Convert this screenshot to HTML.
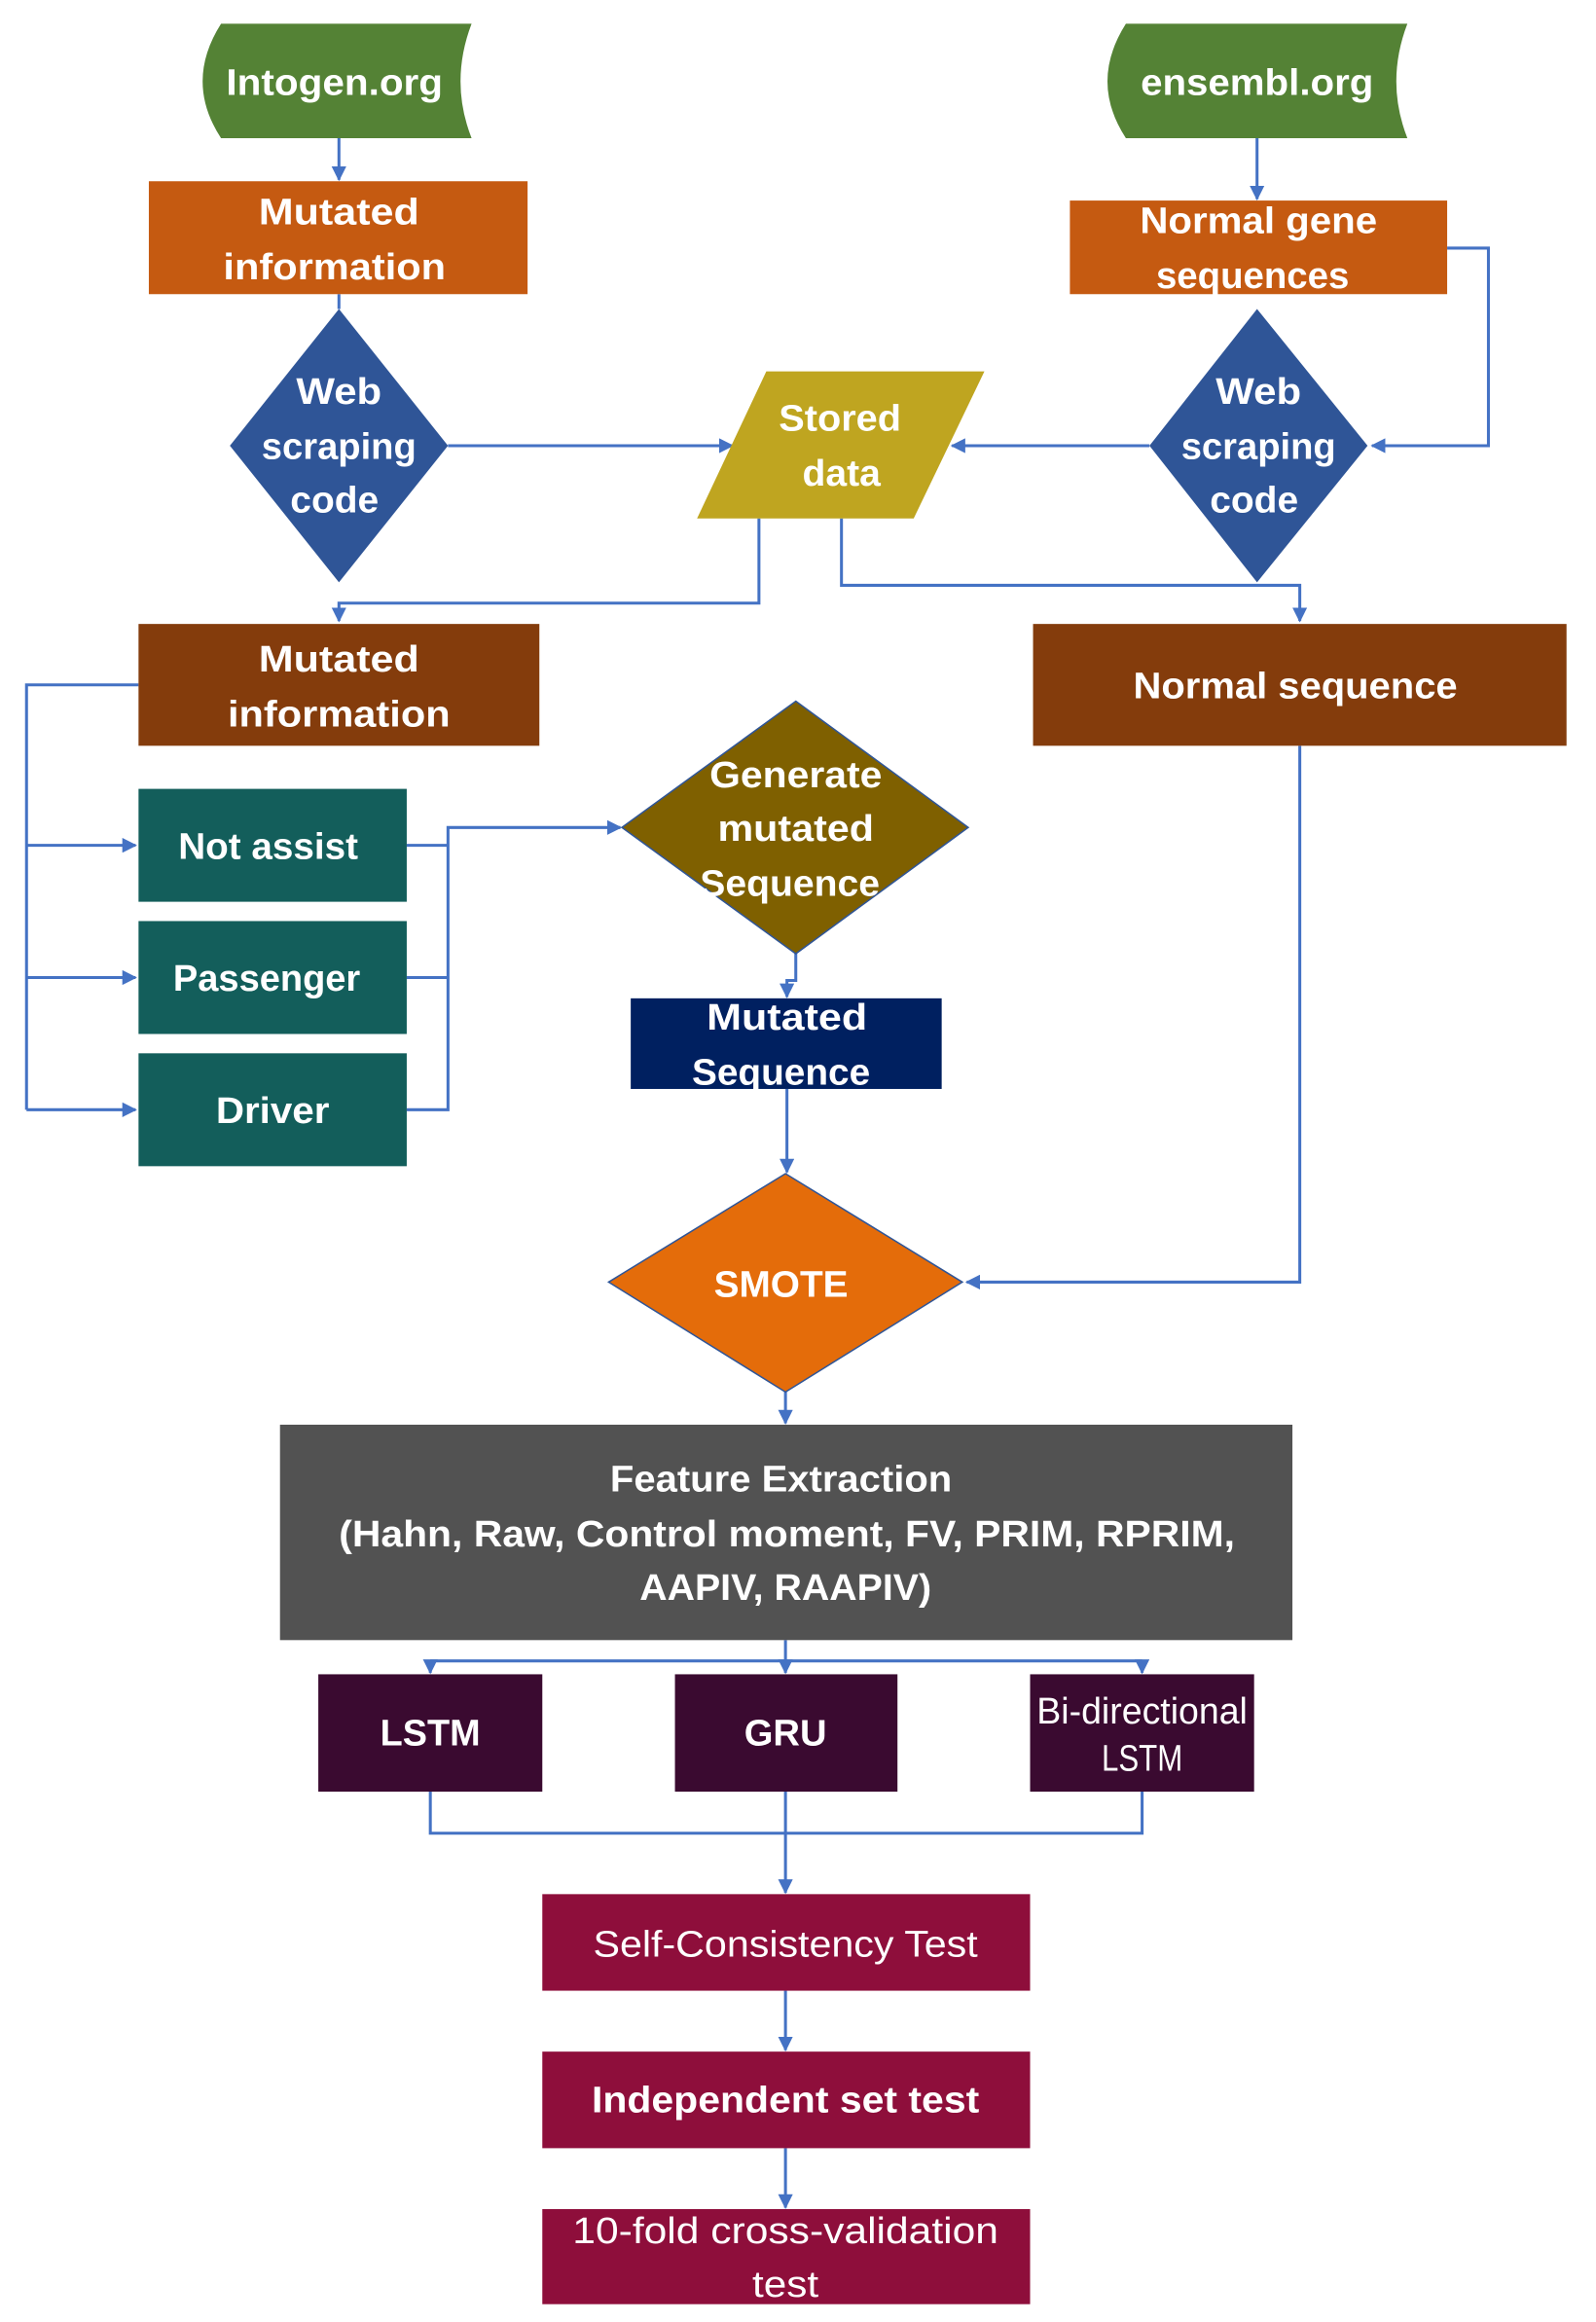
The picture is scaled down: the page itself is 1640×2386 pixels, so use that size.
<!DOCTYPE html>
<html><head><meta charset="utf-8"><style>
html,body{margin:0;padding:0;background:#fff;}
svg{display:block;}
text{font-family:"Liberation Sans",sans-serif;fill:#fff;text-anchor:middle;font-size:25px;font-weight:bold;}
.n{font-weight:normal;}
</style></head><body>
<svg width="1640" height="2386" viewBox="0 0 1083 1563" preserveAspectRatio="none" xmlns="http://www.w3.org/2000/svg">
<defs>
<marker id="a" markerWidth="10" markerHeight="10" refX="9" refY="5" orient="auto" markerUnits="userSpaceOnUse">
<path d="M0,0 L10,5 L0,10 z" fill="#4472C4"/></marker>
</defs>
<g fill="none" stroke="#4472C4" stroke-width="2">
<line x1="230" y1="93" x2="230" y2="121" marker-end="url(#a)"/>
<line x1="853" y1="93" x2="853" y2="134" marker-end="url(#a)"/>
<line x1="230" y1="198" x2="230" y2="208"/>
<line x1="304" y1="300" x2="497" y2="300" marker-end="url(#a)"/>
<polyline points="982,167 1010,167 1010,300 931,300" marker-end="url(#a)"/>
<line x1="780" y1="300" x2="646" y2="300" marker-end="url(#a)"/>
<polyline points="515,349 515,406 230,406 230,418" marker-end="url(#a)"/>
<polyline points="571,349 571,394 882,394 882,418" marker-end="url(#a)"/>
<polyline points="94,461 18,461 18,747"/>
<line x1="18" y1="569" x2="92" y2="569" marker-end="url(#a)"/>
<line x1="18" y1="658" x2="92" y2="658" marker-end="url(#a)"/>
<line x1="18" y1="747" x2="92" y2="747" marker-end="url(#a)"/>
<polyline points="276,569 304,569"/>
<polyline points="276,658 304,658"/>
<polyline points="276,747 304,747 304,557 421,557" marker-end="url(#a)"/>
<polyline points="540,642 540,660 534,660 534,671" marker-end="url(#a)"/>
<line x1="534" y1="733" x2="534" y2="789" marker-end="url(#a)"/>
<polyline points="882,502 882,863 656,863" marker-end="url(#a)"/>
<line x1="533" y1="937" x2="533" y2="958" marker-end="url(#a)"/>
<line x1="292" y1="1118" x2="775" y2="1118"/>
<line x1="533" y1="1104" x2="533" y2="1126" marker-end="url(#a)"/>
<line x1="292" y1="1118" x2="292" y2="1126" marker-end="url(#a)"/>
<line x1="775" y1="1118" x2="775" y2="1126" marker-end="url(#a)"/>
<polyline points="292,1206 292,1234 775,1234 775,1206"/>
<line x1="533" y1="1206" x2="533" y2="1274" marker-end="url(#a)"/>
<line x1="533" y1="1340" x2="533" y2="1380" marker-end="url(#a)"/>
<line x1="533" y1="1446" x2="533" y2="1486" marker-end="url(#a)"/>
</g>
<path d="M150,16 L320,16 Q305,55 320,93 L150,93 Q125,55 150,16 Z" fill="#548235"/>
<path d="M764,16 L955,16 Q940,55 955,93 L764,93 Q739,55 764,16 Z" fill="#548235"/>
<rect x="101" y="122" width="257" height="76" fill="#C55A11"/>
<rect x="726" y="135" width="256" height="63" fill="#C55A11"/>
<polygon points="230,208 304,300 230,392 156,300" fill="#2F5597"/>
<polygon points="853,208 928,300 853,392 780,300" fill="#2F5597"/>
<polygon points="520,250 668,250 620,349 473,349" fill="#BFA520"/>
<rect x="94" y="420" width="272" height="82" fill="#843C0C"/>
<rect x="701" y="420" width="362" height="82" fill="#843C0C"/>
<rect x="94" y="531" width="182" height="76" fill="#135E5B"/>
<rect x="94" y="620" width="182" height="76" fill="#135E5B"/>
<rect x="94" y="709" width="182" height="76" fill="#135E5B"/>
<polygon points="540,472 657,557 540,642 422,557" fill="#7F6000" stroke="#2F5597" stroke-width="1"/>
<rect x="428" y="672" width="211" height="61" fill="#002060"/>
<polygon points="533,790 653,863 533,937 413,863" fill="#E46C0A" stroke="#2F5597" stroke-width="1"/>
<rect x="190" y="959" width="687" height="145" fill="#525252"/>
<rect x="216" y="1127" width="152" height="79" fill="#3A0A30"/>
<rect x="458" y="1127" width="151" height="79" fill="#3A0A30"/>
<rect x="699" y="1127" width="152" height="79" fill="#3A0A30"/>
<rect x="368" y="1275" width="331" height="65" fill="#8E0E3B"/>
<rect x="368" y="1381" width="331" height="65" fill="#8E0E3B"/>
<rect x="368" y="1487" width="331" height="64" fill="#8E0E3B"/>

<text x="227" y="64" textLength="147" lengthAdjust="spacingAndGlyphs">Intogen.org</text>
<text x="853" y="64" textLength="158" lengthAdjust="spacingAndGlyphs">ensembl.org</text>
<text x="230" y="151" textLength="109" lengthAdjust="spacingAndGlyphs">Mutated</text>
<text x="227" y="188" textLength="151" lengthAdjust="spacingAndGlyphs">information</text>
<text x="854" y="157" textLength="161" lengthAdjust="spacingAndGlyphs">Normal gene</text>
<text x="850" y="194" textLength="131" lengthAdjust="spacingAndGlyphs">sequences</text>
<text x="230" y="272" textLength="58" lengthAdjust="spacingAndGlyphs">Web</text>
<text x="230" y="309" textLength="105" lengthAdjust="spacingAndGlyphs">scraping</text>
<text x="227" y="345" textLength="60" lengthAdjust="spacingAndGlyphs">code</text>
<text x="854" y="272" textLength="58" lengthAdjust="spacingAndGlyphs">Web</text>
<text x="854" y="309" textLength="105" lengthAdjust="spacingAndGlyphs">scraping</text>
<text x="851" y="345" textLength="60" lengthAdjust="spacingAndGlyphs">code</text>
<text x="570" y="290" textLength="83" lengthAdjust="spacingAndGlyphs">Stored</text>
<text x="571" y="327" textLength="53" lengthAdjust="spacingAndGlyphs">data</text>
<text x="230" y="452" textLength="109" lengthAdjust="spacingAndGlyphs">Mutated</text>
<text x="230" y="489" textLength="151" lengthAdjust="spacingAndGlyphs">information</text>
<text x="879" y="470" textLength="220" lengthAdjust="spacingAndGlyphs">Normal sequence</text>
<text x="182" y="578" textLength="122" lengthAdjust="spacingAndGlyphs">Not assist</text>
<text x="181" y="667" textLength="127" lengthAdjust="spacingAndGlyphs">Passenger</text>
<text x="185" y="756" textLength="77" lengthAdjust="spacingAndGlyphs">Driver</text>
<text x="540" y="530" textLength="117" lengthAdjust="spacingAndGlyphs">Generate</text>
<text x="540" y="566" textLength="106" lengthAdjust="spacingAndGlyphs">mutated</text>
<text x="536" y="603" textLength="122" lengthAdjust="spacingAndGlyphs">Sequence</text>
<text x="534" y="693" textLength="109" lengthAdjust="spacingAndGlyphs">Mutated</text>
<text x="530" y="730" textLength="121" lengthAdjust="spacingAndGlyphs">Sequence</text>
<text x="530" y="873" textLength="91" lengthAdjust="spacingAndGlyphs">SMOTE</text>
<text x="530" y="1004" textLength="232" lengthAdjust="spacingAndGlyphs">Feature Extraction</text>
<text x="534" y="1041" textLength="608" lengthAdjust="spacingAndGlyphs">(Hahn, Raw, Control moment, FV, PRIM, RPRIM,</text>
<text x="533" y="1077" textLength="198" lengthAdjust="spacingAndGlyphs">AAPIV, RAAPIV)</text>
<text x="292" y="1175" textLength="68" lengthAdjust="spacingAndGlyphs">LSTM</text>
<text x="533" y="1175" textLength="56" lengthAdjust="spacingAndGlyphs">GRU</text>
<text class="n" x="775" y="1160" textLength="143" lengthAdjust="spacingAndGlyphs">Bi-directional</text>
<text class="n" x="775" y="1192" textLength="55" lengthAdjust="spacingAndGlyphs">LSTM</text>
<text class="n" x="533" y="1317" textLength="261" lengthAdjust="spacingAndGlyphs">Self-Consistency Test</text>
<text x="533" y="1422" textLength="263" lengthAdjust="spacingAndGlyphs">Independent set test</text>
<text class="n" x="533" y="1510" textLength="289" lengthAdjust="spacingAndGlyphs">10-fold cross-validation</text>
<text class="n" x="533" y="1546" textLength="45" lengthAdjust="spacingAndGlyphs">test</text>
</svg>
</body></html>
